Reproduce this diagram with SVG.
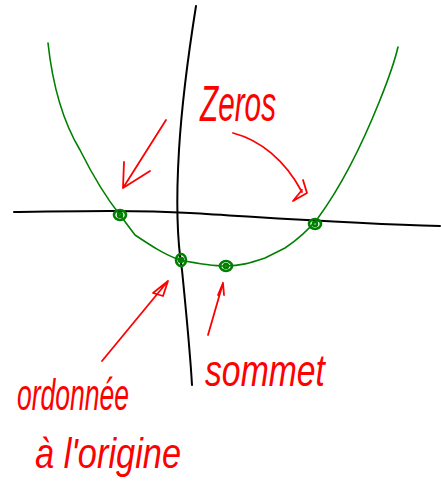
<svg xmlns="http://www.w3.org/2000/svg" width="441" height="500" viewBox="0 0 441 500">
<style>
.ax{fill:none;stroke:#000;stroke-width:2;stroke-linecap:round;stroke-linejoin:round}
.cv{fill:none;stroke:#008000;stroke-width:1.6;stroke-linecap:round;stroke-linejoin:round}
.pt{fill:none;stroke:#008000;stroke-width:2.6}
.ar{fill:none;stroke:#ff0000;stroke-width:1.8;stroke-linecap:round;stroke-linejoin:round}
.lb{fill:#ff0000;font-family:"Liberation Sans",Arial,sans-serif;font-style:italic}
</style>
<rect width="441" height="500" fill="#fff"/>
<g id="axes">
<path class="ax" d="M196,6 C189,50 182,100 179,150 C176,200 177,240 182,270 C186,310 190,350 192,385"/>
<path class="ax" d="M14,212 C80,211 140,210 190,213 C260,217 350,224 440,226"/>
</g>
<g id="parabola">
<path class="cv" d="M48,43 C52,80 62,120 80,150 C95,180 108,200 120,215 L135,235 C150,245 165,255 180,260 C195,263 210,266 226,266 C240,266 250,263 265,258 L285,248 C300,238 310,228 318,218 C340,188 360,150 380,100 C390,75 395,60 398,47"/>
</g>
<g id="zero-left"><ellipse class="pt" cx="120" cy="215" rx="6" ry="5"/><ellipse class="pt" cx="120" cy="215" rx="2" ry="2"/></g>
<g id="zero-right"><ellipse class="pt" cx="315" cy="224" rx="6" ry="5"/><ellipse class="pt" cx="315" cy="224" rx="2" ry="2"/></g>
<g id="intercept"><ellipse class="pt" cx="181" cy="260" rx="5" ry="6"/><ellipse class="pt" cx="181" cy="260" rx="2" ry="2"/></g>
<g id="vertex"><ellipse class="pt" cx="226" cy="266" rx="6" ry="5"/><ellipse class="pt" cx="226" cy="266" rx="2" ry="2"/></g>
<g id="connectors">
<path class="ar" d="M166,120 L123,188 M124,162 L123,188 L150,171"/>
<path class="ar" d="M233,133 C260,140 285,160 302,192 M303,180 L307,193 L293,201 L302,190"/>
<path class="ar" d="M102,361 L168,281 L153,293 L163,296 L168,281"/>
<path class="ar" d="M208,335 L223,283 L218,295 M223,283 L224,295"/>
</g>
<g id="label-zeros"><text class="lb" x="200" y="121" font-size="50" textLength="76" lengthAdjust="spacingAndGlyphs">Zeros</text></g>
<g id="label-sommet"><text class="lb" x="205" y="386" font-size="44" textLength="120" lengthAdjust="spacingAndGlyphs">sommet</text></g>
<g id="label-ordonnee"><text class="lb" x="17" y="410" font-size="44" textLength="112" lengthAdjust="spacingAndGlyphs">ordonnée</text>
<text class="lb" x="35" y="468" font-size="42" textLength="146" lengthAdjust="spacingAndGlyphs">à l'origine</text></g>
</svg>
